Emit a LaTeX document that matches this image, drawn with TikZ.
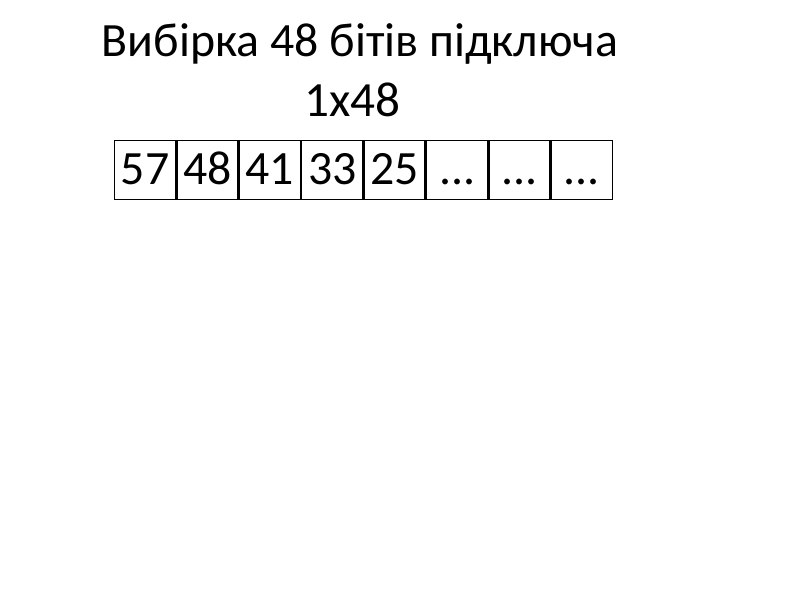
\documentclass[tikz,border=0pt]{standalone}
\usepackage{fontspec}
\setmainfont{Carlito}
\usetikzlibrary{positioning}
\tikzset{
  bitbox/.style={draw, line width=1pt, minimum width=1.525cm, minimum height=1.47cm,
    inner sep=0pt, text height=21pt, text depth=0pt,
    font=\fontsize{34}{38}\selectfont},
}
\begin{document}
\begin{tikzpicture}[x=0.025cm, y=-0.025cm]
  \useasboundingbox (0,0) rectangle (800,600);
  \node (title) [anchor=base, inner sep=0pt, font=\fontsize{34}{40}\selectfont] at (360,56) {Вибірка 48 бітів підключа};
  \node (size) [anchor=base, inner sep=0pt, font=\fontsize{35}{40}\selectfont] at (352.5,116.7) {1x48};
  \node (b1) [bitbox] at (145,170) {57};
  \node (b2) [bitbox, right=0pt of b1] {48};
  \node (b3) [bitbox, right=0pt of b2] {41};
  \node (b4) [bitbox, right=0pt of b3] {33};
  \node (b5) [bitbox, right=0pt of b4] {25};
  \node (b6) [bitbox, right=0pt of b5] {...};
  \node (b7) [bitbox, right=0pt of b6] {...};
  \node (b8) [bitbox, right=0pt of b7] {...};
\end{tikzpicture}
\end{document}
